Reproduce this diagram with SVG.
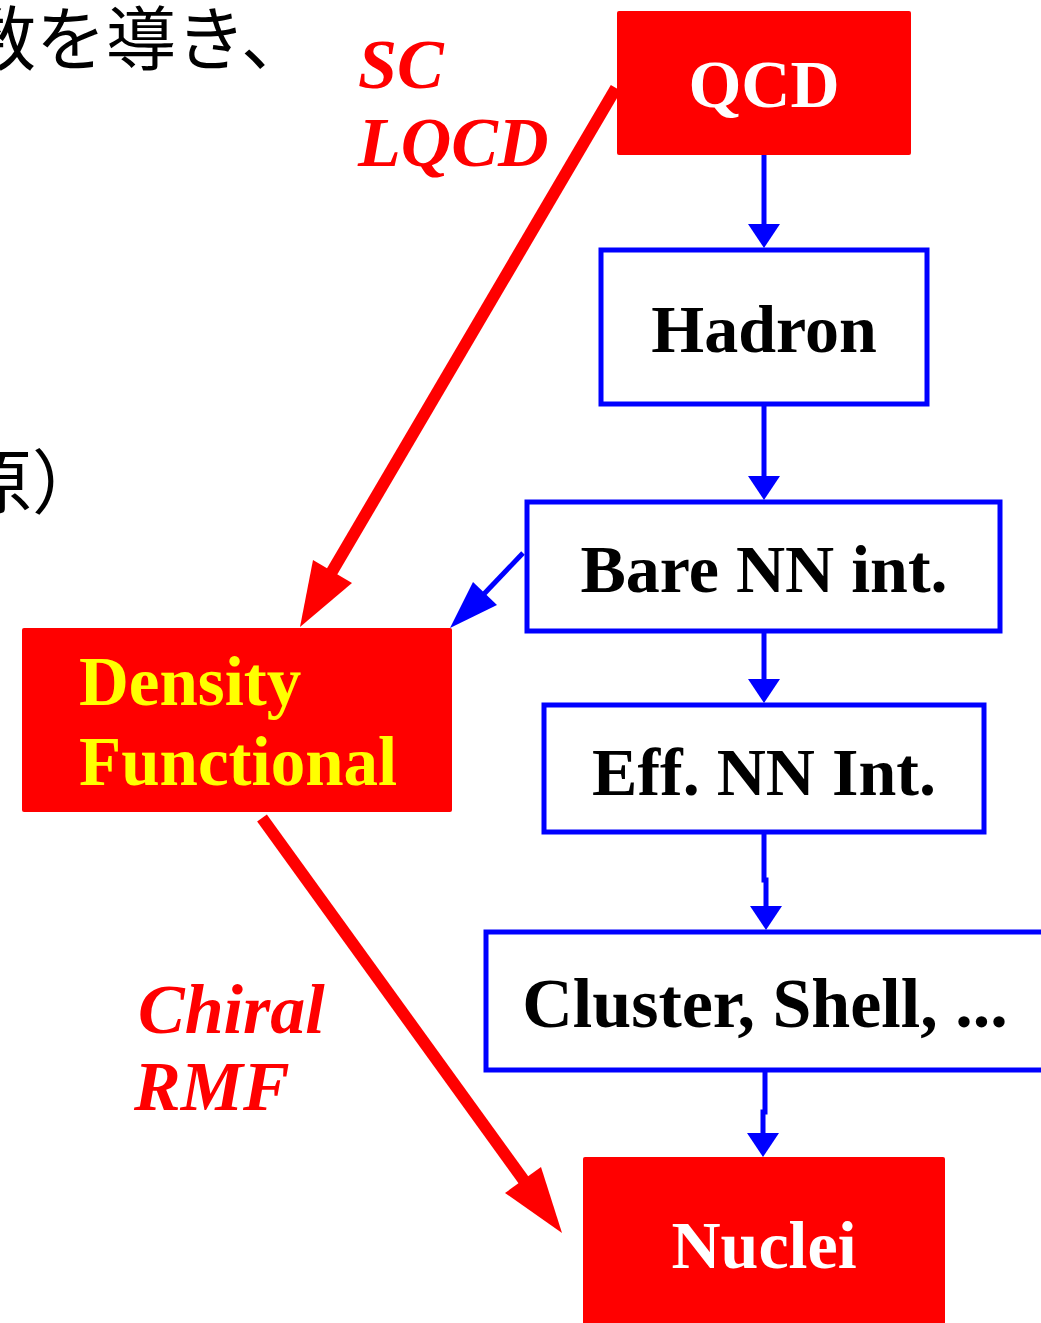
<svg xmlns="http://www.w3.org/2000/svg" width="1041" height="1323" viewBox="0 0 1041 1323">
<defs>
<style>
.lab{font-family:"Liberation Serif","Times New Roman",serif;font-weight:bold;font-size:68px;text-anchor:middle}
.it{font-family:"Liberation Serif","Times New Roman",serif;font-weight:bold;font-style:italic;font-size:70px;fill:#ff0000}
.jp{font-family:"Noto Sans CJK JP","Noto Sans",sans-serif;font-size:70px;fill:#000}
.red{fill:#ff0000}
.bbox{fill:#fff;stroke:#0000ff;stroke-width:5}
.bl{stroke:#0000ff;stroke-width:5;fill:none}
.rl{stroke:#ff0000;stroke-width:12;fill:none}
</style>
</defs>
<text class="jp" x="-34" y="65">数を導き、</text>
<text class="jp" x="-38" y="508">原）</text>
<text class="it" x="358" y="88">SC</text>
<text class="it" x="358" y="166">LQCD</text>
<text class="it" x="138" y="1033">Chiral</text>
<text class="it" x="134" y="1110">RMF</text>
<g id="connectors">
<line class="bl" x1="764" y1="155" x2="764" y2="228"/>
<polygon fill="#0000ff" points="748,224 780,224 764,248"/>
<line class="bl" x1="764" y1="404" x2="764" y2="480"/>
<polygon fill="#0000ff" points="748,476 780,476 764,500"/>
<line class="bl" x1="764" y1="631" x2="764" y2="683"/>
<polygon fill="#0000ff" points="748,679 780,679 764,703"/>
<path class="bl" d="M764,832 V880 H766 V910"/>
<polygon fill="#0000ff" points="750,906 782,906 766,930"/>
<path class="bl" d="M765,1070 V1112 H763 V1137"/>
<polygon fill="#0000ff" points="747,1133 779,1133 763,1157"/>
<line class="bl" x1="523" y1="553" x2="483" y2="595"/>
<polygon fill="#0000ff" points="473,582 497,605 450,628"/>
<line class="rl" x1="616" y1="88" x2="330" y2="575"/>
<polygon fill="#ff0000" points="313,560 352,583 300,627"/>
<line class="rl" x1="262" y1="818" x2="525" y2="1182"/>
<polygon fill="#ff0000" points="505,1193 541,1167 562,1233"/>
</g>
<g id="qcd"><rect class="red" x="617" y="11" width="294" height="144" rx="2"/><text class="lab" x="764" y="107" fill="#fff">QCD</text></g>
<g id="hadron"><rect class="bbox" x="601" y="250" width="326" height="154"/><text class="lab" x="764" y="352">Hadron</text></g>
<g id="bare"><rect class="bbox" x="527" y="502" width="473" height="129"/><text class="lab" x="764" y="592">Bare NN int.</text></g>
<g id="eff"><rect class="bbox" x="544" y="705" width="440" height="127"/><text class="lab" x="764" y="795">Eff. NN Int.</text></g>
<g id="cluster"><rect class="bbox" x="486" y="932" width="580" height="138"/><text class="lab" x="765" y="1027" style="font-size:70px">Cluster, Shell, ...</text></g>
<g id="density"><rect class="red" x="22" y="628" width="430" height="184" rx="2"/><text class="lab" x="79" y="705" fill="#ffff00" style="text-anchor:start;font-size:69px">Density</text><text class="lab" x="79" y="785" fill="#ffff00" style="text-anchor:start;font-size:69px">Functional</text></g>
<g id="nuclei"><rect class="red" x="583" y="1157" width="362" height="180" rx="2"/><text class="lab" x="764" y="1268" fill="#fff">Nuclei</text></g>
</svg>
